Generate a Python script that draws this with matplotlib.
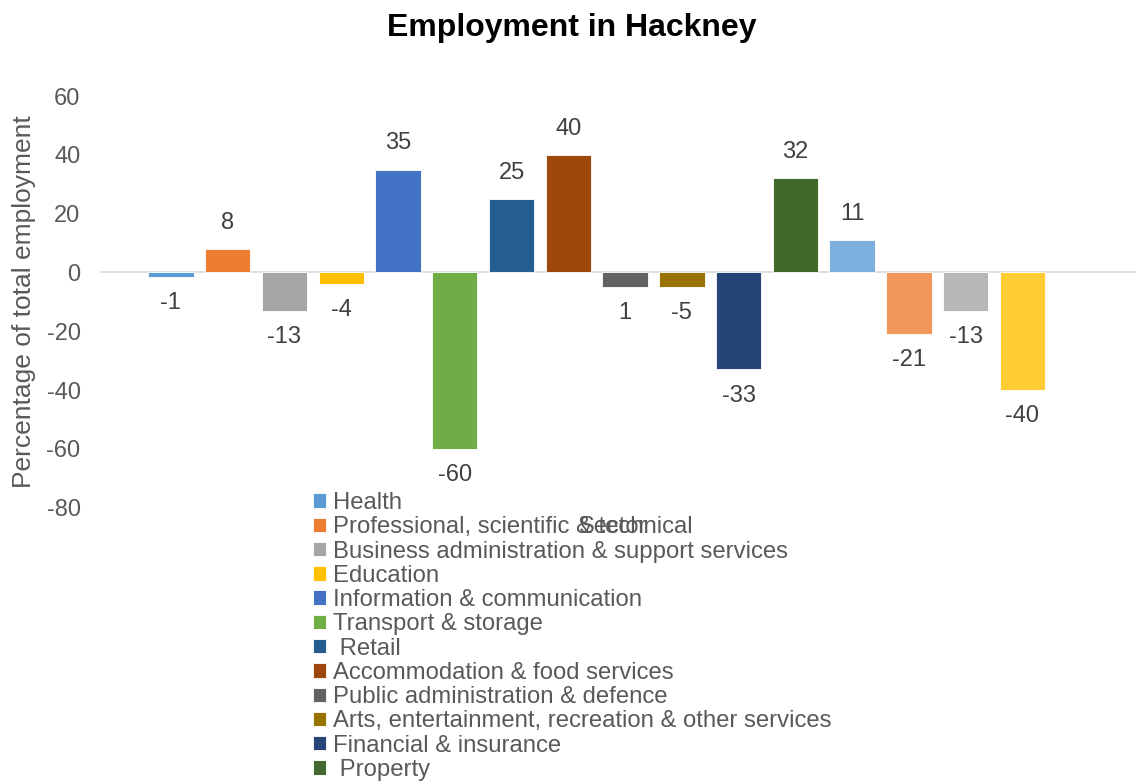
import matplotlib.pyplot as plt
import numpy as np

plt.rcParams['font.family'] = ['Liberation Sans', 'DejaVu Sans']

sectors = ['Health', 'Professional, scientific & technical',
           'Business administration & support services', 'Education',
           'Information & communication', 'Transport & storage', ' Retail',
           'Accommodation & food services', 'Public administration & defence',
           'Arts, entertainment, recreation & other services',
           'Financial & insurance', ' Property',
           'Motor trades', 'Wholesale', 'Manufacturing', 'Construction']
values = [-1.5, 8, -13, -4, 35, -60, 25, 40, -5, -5, -33, 32, 11, -21, -13, -40]
value_labels = ['-1', '8', '-13', '-4', '35', '-60', '25', '40', '1', '-5',
                '-33', '32', '11', '-21', '-13', '-40']
colors = ['#5B9BD5', '#ED7D31', '#A5A5A5', '#FFC000', '#4472C4', '#70AD47',
          '#255E91', '#9E480E', '#636363', '#997300', '#264478', '#43682B',
          '#7CAFDD', '#F1975A', '#B7B7B7', '#FFCD33']
yticks = [60, 40, 20, 0, -20, -40, -60, -80]

grey = '#595959'

fig = plt.figure(figsize=(11.36, 7.81), dpi=100)
ax = fig.add_axes([0.088, 0.350, 0.912, 0.527])

x = np.arange(len(values))
handles = []
for i in range(len(values)):
    b = ax.bar(x[i], values[i], width=0.8, color=colors[i], label=sectors[i],
               edgecolor='white', linewidth=0.6, zorder=2)
    handles.append(b)
    if values[i] >= 0:
        ax.annotate(value_labels[i], (x[i], values[i]), xytext=(0, 11),
                    textcoords='offset points', ha='center', va='bottom',
                    fontsize=17, color='#404040')
    else:
        ax.annotate(value_labels[i], (x[i], values[i]), xytext=(0, -11),
                    textcoords='offset points', ha='center', va='top',
                    fontsize=17, color='#404040')

ax.axhline(0, color='#D9D9D9', linewidth=1.2, zorder=1)
ax.set_xlim(-1.25, 17.0)
ax.set_ylim(-80, 60)
ax.set_yticks(yticks)
ax.set_yticklabels([str(t) for t in yticks], fontsize=17, color=grey)
ax.tick_params(axis='y', length=0, pad=14)
ax.set_xticks([])
for s in ax.spines.values():
    s.set_visible(False)

ax.set_ylabel('Percentage of total employment', fontsize=19, color=grey)
ax.yaxis.set_label_coords(-0.062, 0.5)

fig.text(0.503, 0.964, 'Employment in Hackney', ha='center', va='center',
         fontsize=23, fontweight='bold', color='black')

# legend shows only the first 12 series (rest cut off)
leg = fig.legend(handles[:12], sectors[:12], loc='upper left',
                 bbox_to_anchor=(0.2755, 0.370), frameon=False, fontsize=17.2,
                 handlelength=0.55, handleheight=0.55, handletextpad=0.3,
                 labelspacing=0.095, borderpad=0, borderaxespad=0)
for t in leg.get_texts():
    t.set_color(grey)

fig.text(0.540, 0.325, 'Sector', ha='center', va='center', fontsize=17, color=grey)

fig.savefig('out.png', dpi=100)
